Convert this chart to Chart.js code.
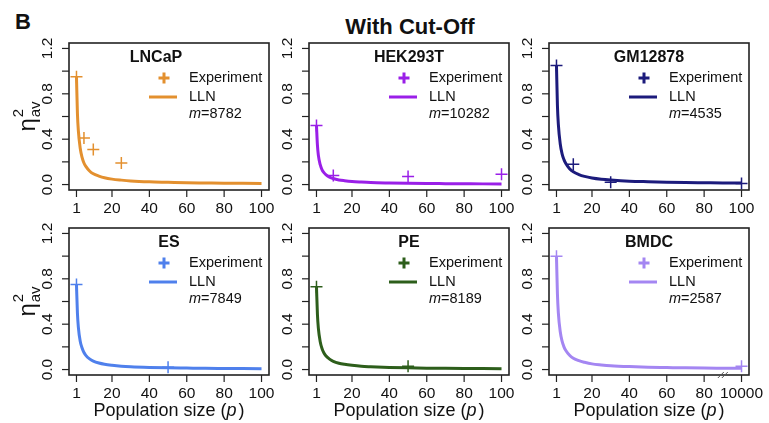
<!DOCTYPE html>
<html>
<head>
<meta charset="utf-8">
<script src="https://cdn.jsdelivr.net/npm/chart.js@4.4.1/dist/chart.umd.min.js"></script>
<style>
  body { margin: 0; background: #fff; }
  #lienzo { position: relative; width: 769px; height: 423px; overflow: hidden; font-family: "Liberation Sans", Arial, sans-serif; color: #111; }
  #lienzo canvas { position: absolute; }
  .letra { position: absolute; left: 15px; top: 9px; font-size: 22px; font-weight: bold; }
  .titulo { position: absolute; left: 309px; width: 202px; top: 14px; text-align: center; font-size: 22px; font-weight: bold; }
</style>
</head>
<body>
<div id="lienzo">
  <div class="letra">B</div>
  <div class="titulo">With Cut-Off</div>
</div>

<script>
// Tamaños de población (eje x) donde se leyó la curva LLN
const pCurva = [1, 1.5, 2, 3, 4, 5, 6, 8, 10, 13, 16, 20, 25, 30, 40, 50, 60, 70, 80, 90, 100];

// Curvas LLN por línea celular
const lncapLLN = [0.95, 0.63, 0.475, 0.32, 0.24, 0.19, 0.16, 0.12, 0.095, 0.075, 0.06, 0.048, 0.039, 0.032, 0.024, 0.02, 0.016, 0.014, 0.012, 0.011, 0.01];
const hekLLN   = [0.52, 0.35, 0.26, 0.175, 0.13, 0.105, 0.088, 0.066, 0.053, 0.041, 0.034, 0.027, 0.022, 0.018, 0.014, 0.011, 0.009, 0.008, 0.007, 0.006, 0.006];
const gmLLN    = [1.05, 0.7, 0.53, 0.36, 0.27, 0.22, 0.185, 0.14, 0.112, 0.088, 0.072, 0.058, 0.047, 0.04, 0.03, 0.025, 0.021, 0.018, 0.016, 0.014, 0.013];
const esLLN    = [0.75, 0.5, 0.375, 0.25, 0.19, 0.15, 0.125, 0.094, 0.075, 0.058, 0.047, 0.038, 0.03, 0.025, 0.019, 0.015, 0.013, 0.011, 0.01, 0.009, 0.008];
const peLLN    = [0.73, 0.49, 0.365, 0.245, 0.183, 0.146, 0.122, 0.092, 0.073, 0.056, 0.046, 0.037, 0.029, 0.025, 0.019, 0.015, 0.012, 0.011, 0.01, 0.009, 0.008];
const bmdcLLN  = [1.0, 0.67, 0.5, 0.335, 0.25, 0.2, 0.168, 0.126, 0.1, 0.078, 0.064, 0.05, 0.041, 0.034, 0.026, 0.021, 0.018, 0.015, 0.013, 0.012, 0.011];

// Puntos experimentales (p, eta^2)
const lncapExpP = [1, 5, 10, 25];
const lncapExpY = [0.95, 0.41, 0.31, 0.19];
const hekExpP = [1, 10, 50, 100];
const hekExpY = [0.52, 0.08, 0.07, 0.09];
const gmExpP = [1, 10, 30, 100];
const gmExpY = [1.05, 0.18, 0.02, 0.01];
const esExpP = [1, 50];
const esExpY = [0.75, 0.02];
const peExpP = [1, 50];
const peExpY = [0.73, 0.03];
const bmdcExpP = [1, 100];
const bmdcExpY = [1.0, 0.03];

// Marcas de los ejes
const xTicks = [1, 20, 40, 60, 80, 100];
const xLabels = ["1", "20", "40", "60", "80", "100"];
const xLabelsBmdc = ["1", "20", "40", "60", "80", "10000"];
const yTicks = [0, 0.2, 0.4, 0.6, 0.8, 1.0, 1.2];
const yLabels = ["0.0", "", "0.4", "", "0.8", "", "1.2"];

const FUENTE = '"Liberation Sans", Arial, sans-serif';

// Paneles: 2 filas x 3 columnas
const paneles = [
  { nombre: "LNCaP",   color: "#E3902F", m: "8782",  curva: lncapLLN, expP: lncapExpP, expY: lncapExpY, fila: 0, col: 0, tituloX: 87 },
  { nombre: "HEK293T", color: "#9A1FE8", m: "10282", curva: hekLLN,   expP: hekExpP,   expY: hekExpY,   fila: 0, col: 1, tituloX: 100 },
  { nombre: "GM12878", color: "#1C1B7C", m: "4535",  curva: gmLLN,    expP: gmExpP,    expY: gmExpY,    fila: 0, col: 2, tituloX: 100 },
  { nombre: "ES",      color: "#4F80EC", m: "7849",  curva: esLLN,    expP: esExpP,    expY: esExpY,    fila: 1, col: 0, tituloX: 100 },
  { nombre: "PE",      color: "#2D5E1B", m: "8189",  curva: peLLN,    expP: peExpP,    expY: peExpY,    fila: 1, col: 1, tituloX: 100 },
  { nombre: "BMDC",    color: "#A486F2", m: "2587",  curva: bmdcLLN,  expP: bmdcExpP,  expY: bmdcExpY,  fila: 1, col: 2, tituloX: 100, corte: true },
];

// Geometría de las cajas
const cajaIzq = [69, 309, 549];
const cajaSup = [43, 228];
const cajaAncho = 200, cajaAlto = 147;
const pad = { left: 65, right: 22, top: 12, bottom: 50 };

// Plugin que dibuja la caja, los ejes al estilo R y la leyenda
const marcoR = {
  id: "marcoR",
  afterDatasetsDraw(chart, args, opts) {
    const p = opts.panel;
    const { ctx, chartArea: a, scales: { x, y } } = chart;
    const L = a.left, T = a.top;
    ctx.save();
    ctx.fillStyle = "#111";
    ctx.strokeStyle = "#222";

    // caja
    ctx.lineWidth = 1.6;
    ctx.strokeRect(L, T, a.right - L, a.bottom - T);

    // eje x
    ctx.lineWidth = 1.2;
    ctx.font = "15.5px " + FUENTE;
    ctx.textAlign = "center";
    ctx.textBaseline = "middle";
    const etiquetas = p.corte ? xLabelsBmdc : xLabels;
    xTicks.forEach((v, i) => {
      const px = x.getPixelForValue(v);
      ctx.beginPath(); ctx.moveTo(px, a.bottom); ctx.lineTo(px, a.bottom + 7); ctx.stroke();
      ctx.fillText(etiquetas[i], px, a.bottom + 19);
    });

    // eje y (etiquetas giradas)
    yTicks.forEach((v, i) => {
      const py = y.getPixelForValue(v);
      ctx.beginPath(); ctx.moveTo(L, py); ctx.lineTo(L - 7, py); ctx.stroke();
      if (yLabels[i]) {
        ctx.save();
        ctx.translate(L - 21, py);
        ctx.rotate(-Math.PI / 2);
        ctx.fillText(yLabels[i], 0, 0);
        ctx.restore();
      }
    });

    // marca de corte del eje (BMDC)
    if (p.corte) {
      const bx = x.getPixelForValue(90);
      ctx.strokeStyle = "#555"; ctx.lineWidth = 1;
      [-2, 2].forEach(d => {
        ctx.beginPath(); ctx.moveTo(bx + d - 3, a.bottom + 3); ctx.lineTo(bx + d + 3, a.bottom - 3); ctx.stroke();
      });
      ctx.strokeStyle = "#222";
    }

    // título del eje x solo en la fila inferior
    if (p.fila === 1) {
      const cx = (L + a.right) / 2;
      const yy = a.bottom + 36;
      const t1 = "Population size (", t3 = ")";
      ctx.font = "italic 18px " + FUENTE;
      const w2 = ctx.measureText("p").width + 2;
      ctx.font = "18px " + FUENTE;
      const w1 = ctx.measureText(t1).width, w3 = ctx.measureText(t3).width;
      const sx = cx - (w1 + w2 + w3) / 2;
      ctx.textAlign = "left";
      ctx.fillText(t1, sx, yy);
      ctx.font = "italic 18px " + FUENTE;
      ctx.fillText("p", sx + w1, yy);
      ctx.font = "18px " + FUENTE;
      ctx.fillText(t3, sx + w1 + w2, yy);
    }

    // título del eje y solo en la columna izquierda
    if (p.col === 0) {
      ctx.save();
      ctx.translate(24, (T + a.bottom) / 2);
      ctx.rotate(-Math.PI / 2);
      ctx.textAlign = "left";
      ctx.textBaseline = "alphabetic";
      ctx.font = "24px " + FUENTE;
      const wEta = ctx.measureText("η").width;
      ctx.font = "15px " + FUENTE;
      const wSub = ctx.measureText("av").width;
      const x0 = -(wEta + wSub + 1) / 2;
      ctx.font = "24px " + FUENTE;
      ctx.fillText("η", x0, 7);
      ctx.font = "15px " + FUENTE;
      ctx.fillText("2", x0 + wEta + 1, -5);
      ctx.fillText("av", x0 + wEta + 1, 12);
      ctx.restore();
    }

    // leyenda con título
    ctx.textBaseline = "middle";
    ctx.textAlign = "center";
    ctx.font = "bold 16px " + FUENTE;
    ctx.fillText(p.nombre, L + p.tituloX, T + 15);

    ctx.strokeStyle = p.color;
    ctx.lineWidth = 3;
    ctx.beginPath();
    ctx.moveTo(L + 89.5, T + 35); ctx.lineTo(L + 100.5, T + 35);
    ctx.moveTo(L + 95, T + 29.5); ctx.lineTo(L + 95, T + 40.5);
    ctx.stroke();
    ctx.beginPath();
    ctx.moveTo(L + 80, T + 54); ctx.lineTo(L + 108, T + 54);
    ctx.stroke();

    ctx.textAlign = "left";
    ctx.font = "14.5px " + FUENTE;
    ctx.fillText("Experiment", L + 120, T + 35);
    ctx.fillText("LLN", L + 120, T + 54);
    ctx.font = "italic 14.5px " + FUENTE;
    ctx.fillText("m", L + 120, T + 71);
    const wm = ctx.measureText("m").width;
    ctx.font = "14.5px " + FUENTE;
    ctx.fillText("=" + p.m, L + 120 + wm, T + 71);

    ctx.restore();
  }
};

const lienzo = document.getElementById("lienzo");

paneles.forEach((p) => {
  const canvas = document.createElement("canvas");
  canvas.width = pad.left + cajaAncho + pad.right;
  canvas.height = pad.top + cajaAlto + pad.bottom;
  canvas.style.left = (cajaIzq[p.col] - pad.left) + "px";
  canvas.style.top = (cajaSup[p.fila] - pad.top) + "px";
  lienzo.appendChild(canvas);

  new Chart(canvas.getContext("2d"), {
    type: "scatter",
    data: {
      datasets: [
        {
          label: "LLN",
          data: pCurva.map((v, i) => ({ x: v, y: p.curva[i] })),
          showLine: true,
          borderColor: p.color,
          borderWidth: 3,
          pointRadius: 0,
          cubicInterpolationMode: "monotone",
          order: 1,
        },
        {
          label: "Experiment",
          data: p.expP.map((v, i) => ({ x: v, y: p.expY[i] })),
          pointStyle: "cross",
          pointRadius: 6,
          pointBorderWidth: 1.5,
          borderColor: p.color,
          backgroundColor: p.color,
          order: 2,
        },
      ],
    },
    options: {
      responsive: false,
      animation: false,
      devicePixelRatio: 1,
      layout: { padding: pad },
      scales: {
        x: { type: "linear", min: -3, max: 104, display: false },
        y: { type: "linear", min: -0.048, max: 1.248, display: false },
      },
      plugins: {
        legend: { display: false },
        tooltip: { enabled: false },
        marcoR: { panel: p },
      },
    },
    plugins: [marcoR],
  });
});
</script>
</body>
</html>
